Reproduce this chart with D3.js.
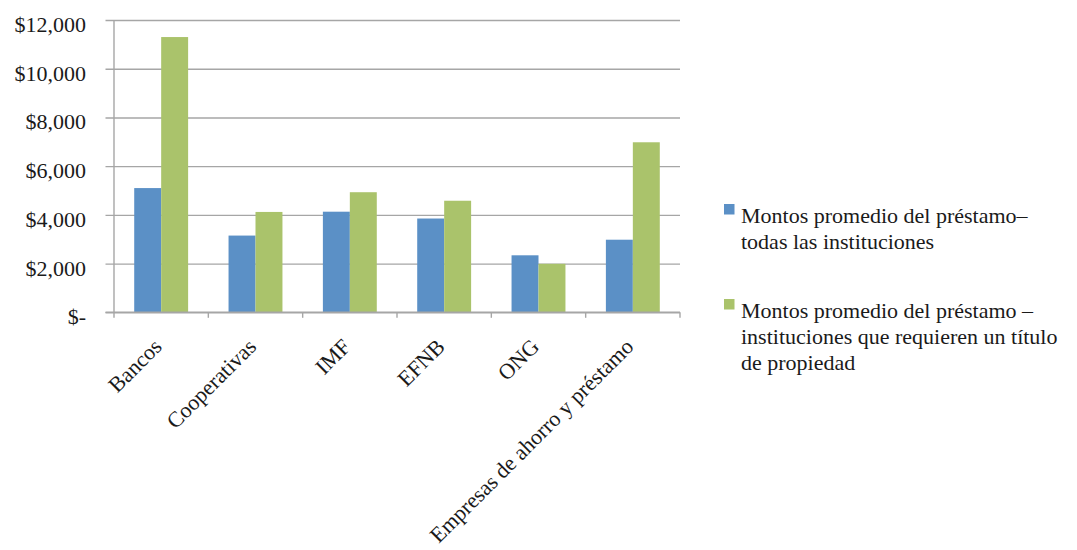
<!DOCTYPE html>
<html>
<head>
<meta charset="utf-8">
<script src="https://cdn.jsdelivr.net/npm/d3@7"></script>
<style>
  html, body { margin: 0; padding: 0; background: #ffffff; }
  svg { display: block; }
  svg text, svg tspan { font-family: "Liberation Serif", serif !important; fill: #1a1a1a; }
</style>
</head>
<body>
<svg id="chart" width="1077" height="550" font-family="Liberation Serif, serif"></svg>
<script>
// Average loan amounts by institution type (USD)
const categories = ["Bancos", "Cooperativas", "IMF", "EFNB", "ONG", "Empresas de ahorro y préstamo"];
const allInstitutions = [5100, 3150, 4130, 3850, 2340, 2980];
const titleRequired = [11300, 4120, 4930, 4580, 1990, 6980];
const legendLines = [
  ["Montos promedio del préstamo–", "todas las instituciones"],
  ["Montos promedio del préstamo –", "instituciones que requieren un título", "de propiedad"]
];
const yTicks = [0, 2000, 4000, 6000, 8000, 10000, 12000];
const colors = ["#5b90c6", "#aac36b"];
const FONT = "Liberation Serif, serif";

const svg = d3.select("#chart");
const plot = { left: 114, right: 680, top: 20, bottom: 312.3 };

const x0 = d3.scaleBand().domain(categories).range([plot.left, plot.right]).padding(0);
const x1 = d3.scaleBand().domain(d3.range(2))
  .range([0, x0.bandwidth()]).paddingInner(0).paddingOuter(0.75);
const y = d3.scaleLinear().domain([0, 12000]).range([plot.bottom, plot.top]);

const gridColor = "#a6a6a6";

// Horizontal gridlines (with the short outside tick marks on the left)
const grid = svg.append("g")
  .attr("transform", `translate(${plot.right},0)`)
  .call(d3.axisLeft(y).tickValues(yTicks).tickSize(plot.right - plot.left + 8.5).tickFormat(""));
grid.select(".domain").remove();
grid.selectAll(".tick line").attr("stroke", gridColor).attr("stroke-width", 1.4);

// Vertical value axis line
svg.append("line")
  .attr("x1", plot.left).attr("x2", plot.left)
  .attr("y1", plot.top).attr("y2", plot.bottom)
  .attr("stroke", gridColor).attr("stroke-width", 1.4);

// Y tick labels
const yLabels = svg.append("g")
  .attr("transform", "translate(86,4.5)")
  .call(d3.axisLeft(y).tickValues(yTicks).tickSize(0).tickPadding(0)
    .tickFormat(d => d === 0 ? "$-" : "$" + d3.format(",")(d)));
yLabels.attr("font-family", FONT).attr("font-size", 22);
yLabels.select(".domain").remove();
yLabels.selectAll("text")
  .attr("font-family", FONT)
  .attr("font-size", 22)
  .attr("fill", "#1a1a1a");

// Bars
const series = [allInstitutions, titleRequired];
const groups = svg.append("g").selectAll("g")
  .data(categories)
  .join("g")
  .attr("transform", d => `translate(${x0(d)},0)`);
groups.selectAll("rect")
  .data((d, i) => series.map((s, k) => ({ k, v: s[i] })))
  .join("rect")
  .attr("x", d => x1(d.k))
  .attr("width", x1.bandwidth())
  .attr("y", d => y(d.v))
  .attr("height", d => y(0) - y(d.v))
  .attr("fill", d => colors[d.k]);

// Category axis
const xAxis = svg.append("g")
  .attr("transform", `translate(0,${plot.bottom})`);
xAxis.append("line")
  .attr("x1", plot.left - 8.5).attr("x2", plot.right)
  .attr("stroke", gridColor).attr("stroke-width", 1.4);
const boundaries = categories.map(c => x0(c)).concat([plot.right]);
xAxis.selectAll("line.tick")
  .data(boundaries)
  .join("line")
  .attr("class", "tick")
  .attr("x1", d => d).attr("x2", d => d)
  .attr("y1", 0).attr("y2", 5.5)
  .attr("stroke", gridColor).attr("stroke-width", 1.4);

svg.append("g").selectAll("text")
  .data(categories)
  .join("text")
  .attr("transform", d => `translate(${x0(d) + x0.bandwidth() / 2 + 2},348) rotate(-45)`)
  .attr("text-anchor", "end")
  .attr("font-family", FONT)
  .attr("font-size", 22)
  .text(d => d);

// Legend
const legendY = [
  { marker: 204, base: 223 },
  { marker: 299, base: 318 }
];
const legend = svg.append("g");
legendLines.forEach((lines, i) => {
  legend.append("rect")
    .attr("x", 724).attr("y", legendY[i].marker)
    .attr("width", 10.5).attr("height", 10.5)
    .attr("fill", colors[i]);
  const t = legend.append("text")
    .attr("x", 741).attr("y", legendY[i].base)
    .attr("font-family", FONT)
    .attr("font-size", 22);
  lines.forEach((line, j) => {
    t.append("tspan").attr("x", 741).attr("dy", j === 0 ? 0 : 26).text(line);
  });
});
</script>
</body>
</html>
